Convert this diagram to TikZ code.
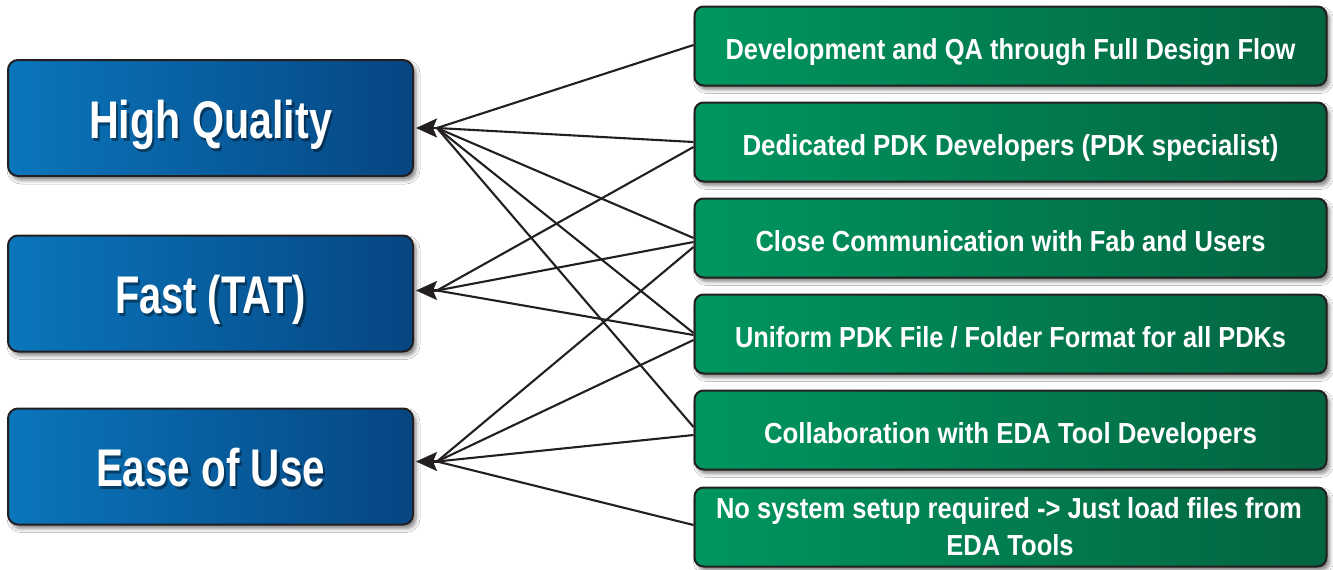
\documentclass[tikz,border=0pt]{standalone}
\usepackage{fontspec}
\setmainfont{Liberation Sans}
\usepackage{graphicx}
\usetikzlibrary{shadows.blur,calc,arrows.meta}
\definecolor{bL}{RGB}{10,118,188}
\definecolor{bR}{RGB}{6,70,130}
\definecolor{gL}{RGB}{0,150,96}
\definecolor{gR}{RGB}{3,100,64}
\definecolor{edge}{RGB}{35,31,32}
\newlength\fitlen
\newcommand\fitto[2]{\settowidth\fitlen{#2}\pgfmathsetmacro\fitfac{#1/\fitlen}\xdef\lastfac{\fitfac}\scalebox{\fitfac}[1]{#2}}
\newcommand\tshadow[1]{\makebox[0pt][l]{\hspace{3pt}\raisebox{-3pt}{\pgfsetfillopacity{0.4}\color{black}#1\pgfsetfillopacity{1}}}#1}
\tikzset{
  bluebox/.style={draw=edge, line width=2pt, rounded corners=10pt, left color=bL, right color=bR,
    minimum width=405pt, minimum height=116pt, inner sep=0pt, text=white,
    font=\bfseries\fontsize{53}{53}\selectfont, text height=40pt, text depth=0pt,
    blur shadow={shadow xshift=3pt, shadow yshift=-4pt, shadow blur radius=4pt, shadow opacity=50}},
  greenbox/.style={draw=edge, line width=2pt, rounded corners=9pt, left color=gL, right color=gR,
    minimum width=632pt, minimum height=79pt, inner sep=0pt, text=white,
    font=\bfseries\fontsize{29}{29}\selectfont, text height=26pt, text depth=0pt,
    blur shadow={shadow xshift=3pt, shadow yshift=-4pt, shadow blur radius=4pt, shadow opacity=50}},
  gtext/.style={anchor=base, inner sep=0pt, text=white, font=\bfseries\fontsize{29}{29}\selectfont},
  conn/.style={draw=edge, line width=2.1pt},
  tipline/.style={draw=edge, line width=2.1pt, -{Stealth[length=21pt,width=19pt,inset=4pt]}}
}
\begin{document}
\begin{tikzpicture}[x=1pt,y=-1pt]
\useasboundingbox[fill=white] (0,0) rectangle (1333,570);
% left boxes
\node[bluebox] (hq) at (210.5,118) {\fitto{243}{\tshadow{High Quality}}};
\node[bluebox] (fast) at (210.5,293.5) {\fitto{191}{\tshadow{Fast (TAT)}}};
\node[bluebox] (ease) at (210.5,466.5) {\fitto{229}{\tshadow{Ease of Use}}};
% right boxes
\node[greenbox] (dev) at (1010.5,46) {\fitto{570}{Development and QA through Full Design Flow}};
\node[greenbox] (ded) at (1010.5,142) {\fitto{536}{Dedicated PDK Developers (PDK specialist)}};
\node[greenbox] (clo) at (1010.5,238) {\fitto{510}{Close Communication with Fab and Users}};
\node[greenbox] (uni) at (1010.5,334) {\fitto{551}{Uniform PDK File / Folder Format for all PDKs}};
\node[greenbox] (col) at (1010.5,430) {\fitto{493}{Collaboration with EDA Tool Developers}};
\node[greenbox] (nos) at (1010.5,527) {};
\node[gtext] (nos1) at (1009,518) {\fitto{586}{No system setup required -> Just load files from}};
\node[gtext] (nos2) at (1010,555) {\scalebox{\lastfac}[1]{EDA Tools}};
% arrow tips and junctions
\coordinate (hqt) at ($(hq.east)+(2,10)$);
\coordinate (hqj) at ($(hqt)+(21,0)$);
\coordinate (fat) at ($(fast.east)+(2,-3)$);
\coordinate (faj) at ($(fat)+(21,0)$);
\coordinate (eat) at ($(ease.east)+(2,-5)$);
\coordinate (eaj) at ($(eat)+(21,0)$);
% connectors
\draw[conn] ($(dev.west)+(0,-1)$) -- (hqj);
\draw[conn] ($(ded.west)+(0,0)$) -- (hqj);
\draw[conn] ($(ded.west)+(0,5)$) -- (faj);
\draw[conn] ($(clo.west)+(0,0)$) -- (hqj);
\draw[conn] ($(clo.west)+(0,4)$) -- (faj);
\draw[conn] ($(clo.west)+(0,9)$) -- (eaj);
\draw[conn] ($(uni.west)+(0,-1)$) -- (hqj);
\draw[conn] ($(uni.west)+(0,1)$) -- (faj);
\draw[conn] ($(uni.west)+(0,6)$) -- (eaj);
\draw[conn] ($(col.west)+(0,-3)$) -- (hqj);
\draw[conn] ($(col.west)+(0,5)$) -- (eaj);
\draw[conn] ($(nos.west)+(0,-2)$) -- (eaj);
\draw[tipline] (hqj) -- (hqt);
\draw[tipline] (faj) -- (fat);
\draw[tipline] (eaj) -- (eat);
\end{tikzpicture}
\end{document}
